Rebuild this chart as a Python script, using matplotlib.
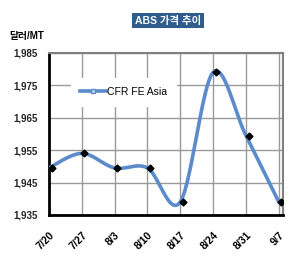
"""
ABS price trend (CFR FE Asia), weekly
"""

import matplotlib.pyplot as plt
import numpy as np
from matplotlib.lines import Line2D

plt.rcParams["font.family"] = ["Liberation Sans", "Noto Sans CJK KR", "DejaVu Sans"]

dates = ["7/20", "7/27", "8/3", "8/10", "8/17", "8/24", "8/31", "9/7"]
prices = [1949.5, 1954, 1949.5, 1949.5, 1939, 1979, 1959.5, 1939]
yticks = [1935, 1945, 1955, 1965, 1975, 1985]


def smooth(x, y, n=30):
    """Excel-style smoothed line (Catmull-Rom through the points)"""
    px = np.r_[x[0], x, x[-1]]
    py = np.r_[y[0], y, y[-1]]
    xs, ys = [], []
    for i in range(1, len(px) - 2):
        t = np.linspace(0, 1, n)
        h1 = 2 * t**3 - 3 * t**2 + 1
        h2 = -2 * t**3 + 3 * t**2
        h3 = t**3 - 2 * t**2 + t
        h4 = t**3 - t**2
        for p, out in ((px, xs), (py, ys)):
            m1 = (p[i + 1] - p[i - 1]) / 2
            m2 = (p[i + 2] - p[i]) / 2
            out.extend(h1 * p[i] + h2 * p[i + 1] + h3 * m1 + h4 * m2)
    return np.array(xs), np.array(ys)


fig = plt.figure(figsize=(3.04, 2.66), dpi=100)
ax = fig.add_axes([0.161, 0.192, 0.77, 0.609])

x = np.arange(len(dates))
sx, sy = smooth(x.astype(float), np.array(prices))
ax.plot(sx, sy, color="#5B8BCB", lw=2.6, zorder=3, solid_capstyle="round")
ax.plot(x + 0.08, prices, ls="none", marker="D", ms=3.5, color="black", zorder=4)

ax.set_xlim(0, 7.13)
ax.set_ylim(1935, 1985)
ax.set_xticks(x)
ax.set_xticklabels(dates, rotation=45, fontsize=7.5, fontweight="bold",
                   ha="right", va="top", rotation_mode="anchor")
ax.set_yticks(yticks)
ax.set_yticklabels([f"{v:,}" for v in yticks], fontsize=7, fontweight="bold",
                   color="#222222")
ax.tick_params(axis="y", length=0, pad=8)
ax.tick_params(axis="x", length=0, pad=11)
ax.grid(True, color="#9a9a9a", lw=1)
ax.set_axisbelow(True)
for side in ["left", "bottom"]:
    ax.spines[side].set_linewidth(2)
    ax.spines[side].set_color("black")
for side in ["top", "right"]:
    ax.spines[side].set_linewidth(1.5)
    ax.spines[side].set_color("#808080")

handle = Line2D([], [], color="#5B8BCB", lw=2.6, marker="s", ms=3.5,
                markerfacecolor="#C9D9EE", markeredgecolor="#5B8BCB")
ax.legend([handle], ["CFR FE Asia"], loc="upper left", bbox_to_anchor=(0.07, 0.88),
          frameon=True, fancybox=False, edgecolor="white", framealpha=1,
          fontsize=7.5, handlelength=2.5, handletextpad=0.1, borderpad=0.9)

fig.text(0.552, 0.922, "ABS 가격 추이", color="white", fontsize=7.5, fontweight="bold",
         ha="center", va="center",
         bbox=dict(boxstyle="square,pad=0.25", facecolor="#2F5D8C", edgecolor="none"))
fig.text(0.03, 0.865, "달러/MT", fontsize=7, fontweight="bold", ha="left", va="center")

fig.savefig("out.png", dpi=100)
